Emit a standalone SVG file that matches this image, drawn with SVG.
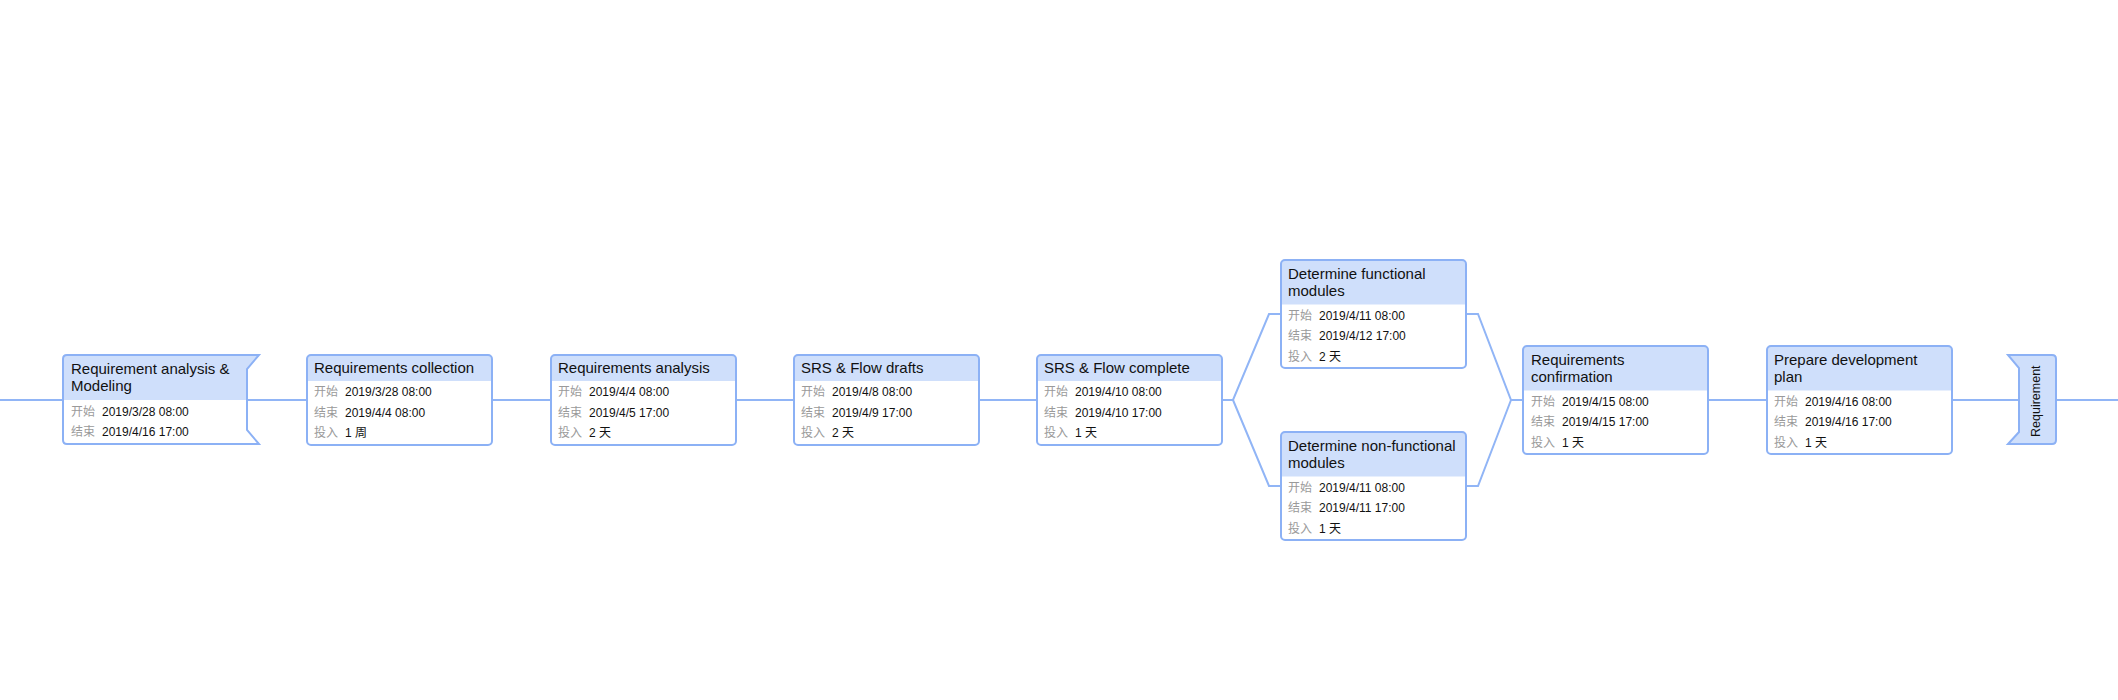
<svg xmlns="http://www.w3.org/2000/svg" width="2118" height="700" viewBox="0 0 2118 700">
<defs>
<style>
.bg{fill:#ffffff}
.hdr{fill:#cfdffb}
.brd{fill:none;stroke:#8cb1f5;stroke-width:2}
.conn{fill:none;stroke:#91b5f6;stroke-width:2}
.t{font-family:"Liberation Sans",Arial,"Noto Sans CJK SC",sans-serif;font-size:15px;fill:#111}
.ts{font-family:"Liberation Sans",Arial,"Noto Sans CJK SC",sans-serif;font-size:12.5px;fill:#111}
.l{font-family:"Liberation Sans",Arial,"Noto Sans CJK SC",sans-serif;font-size:12px;fill:#9a9a9a}
.v{font-family:"Liberation Sans",Arial,"Noto Sans CJK SC",sans-serif;font-size:12px;fill:#111}
</style>
<clipPath id="clipEnd"><rect x="2019" y="362" width="40" height="80"/></clipPath>
</defs>
<rect width="2118" height="700" fill="#ffffff"/>
<g id="connectors">
<path class="conn" d="M0,400 H63"/>
<path class="conn" d="M247,400 H307"/>
<path class="conn" d="M492,400 H551"/>
<path class="conn" d="M736,400 H794"/>
<path class="conn" d="M979,400 H1037"/>
<path class="conn" d="M1222,400 H1233 L1269,314 H1281"/>
<path class="conn" d="M1233,400 L1269,486 H1281"/>
<path class="conn" d="M1466,314 H1478 L1511,400 H1523"/>
<path class="conn" d="M1466,486 H1478 L1511,400"/>
<path class="conn" d="M1708,400 H1767"/>
<path class="conn" d="M1952,400 H2019"/>
<path class="conn" d="M2056,400 H2118"/>
</g>
<g id="node1">
<path class="bg" d="M67,355 H259 L247,369 V430 L259,444 H67 Q63,444 63,440 V359 Q63,355 67,355 Z"/>
<path class="hdr" d="M63,400 V359 Q63,355 67,355 H259 L247,369 V400 Z"/>
<path class="brd" d="M67,355 H259 L247,369 V430 L259,444 H67 Q63,444 63,440 V359 Q63,355 67,355 Z"/>
<text class="t" x="71" y="373.5">Requirement analysis &amp;</text>
<text class="t" x="71" y="391">Modeling</text>
<text class="l" x="71" y="415.5">开始</text><text class="v" x="102" y="415.5">2019/3/28 08:00</text>
<text class="l" x="71" y="436">结束</text><text class="v" x="102" y="436">2019/4/16 17:00</text>
</g>
<g id="node2">
<rect class="bg" x="307" y="355" width="185" height="90" rx="4"/>
<path class="hdr" d="M307,381 V359 Q307,355 311,355 H488 Q492,355 492,359 V381 Z"/>
<rect class="brd" x="307" y="355" width="185" height="90" rx="4"/>
<text class="t" x="314" y="373">Requirements collection</text>
<text class="l" x="314" y="396.3">开始</text><text class="v" x="345" y="396.3">2019/3/28 08:00</text>
<text class="l" x="314" y="416.8">结束</text><text class="v" x="345" y="416.8">2019/4/4 08:00</text>
<text class="l" x="314" y="437.3">投入</text><text class="v" x="345" y="437.3">1 周</text>
</g>
<g id="node3">
<rect class="bg" x="551" y="355" width="185" height="90" rx="4"/>
<path class="hdr" d="M551,381 V359 Q551,355 555,355 H732 Q736,355 736,359 V381 Z"/>
<rect class="brd" x="551" y="355" width="185" height="90" rx="4"/>
<text class="t" x="558" y="373">Requirements analysis</text>
<text class="l" x="558" y="396.3">开始</text><text class="v" x="589" y="396.3">2019/4/4 08:00</text>
<text class="l" x="558" y="416.8">结束</text><text class="v" x="589" y="416.8">2019/4/5 17:00</text>
<text class="l" x="558" y="437.3">投入</text><text class="v" x="589" y="437.3">2 天</text>
</g>
<g id="node4">
<rect class="bg" x="794" y="355" width="185" height="90" rx="4"/>
<path class="hdr" d="M794,381 V359 Q794,355 798,355 H975 Q979,355 979,359 V381 Z"/>
<rect class="brd" x="794" y="355" width="185" height="90" rx="4"/>
<text class="t" x="801" y="373">SRS &amp; Flow drafts</text>
<text class="l" x="801" y="396.3">开始</text><text class="v" x="832" y="396.3">2019/4/8 08:00</text>
<text class="l" x="801" y="416.8">结束</text><text class="v" x="832" y="416.8">2019/4/9 17:00</text>
<text class="l" x="801" y="437.3">投入</text><text class="v" x="832" y="437.3">2 天</text>
</g>
<g id="node5">
<rect class="bg" x="1037" y="355" width="185" height="90" rx="4"/>
<path class="hdr" d="M1037,381 V359 Q1037,355 1041,355 H1218 Q1222,355 1222,359 V381 Z"/>
<rect class="brd" x="1037" y="355" width="185" height="90" rx="4"/>
<text class="t" x="1044" y="373">SRS &amp; Flow complete</text>
<text class="l" x="1044" y="396.3">开始</text><text class="v" x="1075" y="396.3">2019/4/10 08:00</text>
<text class="l" x="1044" y="416.8">结束</text><text class="v" x="1075" y="416.8">2019/4/10 17:00</text>
<text class="l" x="1044" y="437.3">投入</text><text class="v" x="1075" y="437.3">1 天</text>
</g>
<g id="node6">
<rect class="bg" x="1281" y="260" width="185" height="108" rx="4"/>
<path class="hdr" d="M1281,304.5 V264 Q1281,260 1285,260 H1462 Q1466,260 1466,264 V304.5 Z"/>
<rect class="brd" x="1281" y="260" width="185" height="108" rx="4"/>
<text class="t" x="1288" y="278.5">Determine functional</text>
<text class="t" x="1288" y="296">modules</text>
<text class="l" x="1288" y="319.5">开始</text><text class="v" x="1319" y="319.5">2019/4/11 08:00</text>
<text class="l" x="1288" y="340">结束</text><text class="v" x="1319" y="340">2019/4/12 17:00</text>
<text class="l" x="1288" y="360.5">投入</text><text class="v" x="1319" y="360.5">2 天</text>
</g>
<g id="node7">
<rect class="bg" x="1281" y="432" width="185" height="108" rx="4"/>
<path class="hdr" d="M1281,476.5 V436 Q1281,432 1285,432 H1462 Q1466,432 1466,436 V476.5 Z"/>
<rect class="brd" x="1281" y="432" width="185" height="108" rx="4"/>
<text class="t" x="1288" y="450.5">Determine non-functional</text>
<text class="t" x="1288" y="468">modules</text>
<text class="l" x="1288" y="491.5">开始</text><text class="v" x="1319" y="491.5">2019/4/11 08:00</text>
<text class="l" x="1288" y="512">结束</text><text class="v" x="1319" y="512">2019/4/11 17:00</text>
<text class="l" x="1288" y="532.5">投入</text><text class="v" x="1319" y="532.5">1 天</text>
</g>
<g id="node8">
<rect class="bg" x="1523" y="346" width="185" height="108" rx="4"/>
<path class="hdr" d="M1523,390.5 V350 Q1523,346 1527,346 H1704 Q1708,346 1708,350 V390.5 Z"/>
<rect class="brd" x="1523" y="346" width="185" height="108" rx="4"/>
<text class="t" x="1531" y="364.5">Requirements</text>
<text class="t" x="1531" y="382">confirmation</text>
<text class="l" x="1531" y="405.5">开始</text><text class="v" x="1562" y="405.5">2019/4/15 08:00</text>
<text class="l" x="1531" y="426">结束</text><text class="v" x="1562" y="426">2019/4/15 17:00</text>
<text class="l" x="1531" y="446.5">投入</text><text class="v" x="1562" y="446.5">1 天</text>
</g>
<g id="node9">
<rect class="bg" x="1767" y="346" width="185" height="108" rx="4"/>
<path class="hdr" d="M1767,390.5 V350 Q1767,346 1771,346 H1948 Q1952,346 1952,350 V390.5 Z"/>
<rect class="brd" x="1767" y="346" width="185" height="108" rx="4"/>
<text class="t" x="1774" y="364.5">Prepare development</text>
<text class="t" x="1774" y="382">plan</text>
<text class="l" x="1774" y="405.5">开始</text><text class="v" x="1805" y="405.5">2019/4/16 08:00</text>
<text class="l" x="1774" y="426">结束</text><text class="v" x="1805" y="426">2019/4/16 17:00</text>
<text class="l" x="1774" y="446.5">投入</text><text class="v" x="1805" y="446.5">1 天</text>
</g>
<g id="node10">
<path class="hdr" d="M2008,355 H2052 Q2056,355 2056,359 V440 Q2056,444 2052,444 H2008 L2019,432 V368 Z"/>
<path class="brd" d="M2008,355 H2052 Q2056,355 2056,359 V440 Q2056,444 2052,444 H2008 L2019,432 V368 Z"/>
<g clip-path="url(#clipEnd)">
<text class="ts" transform="translate(2040,437) rotate(-90)" x="0" y="0">Requirement analysis &amp; Modeling</text>
</g>
</g>
</svg>
